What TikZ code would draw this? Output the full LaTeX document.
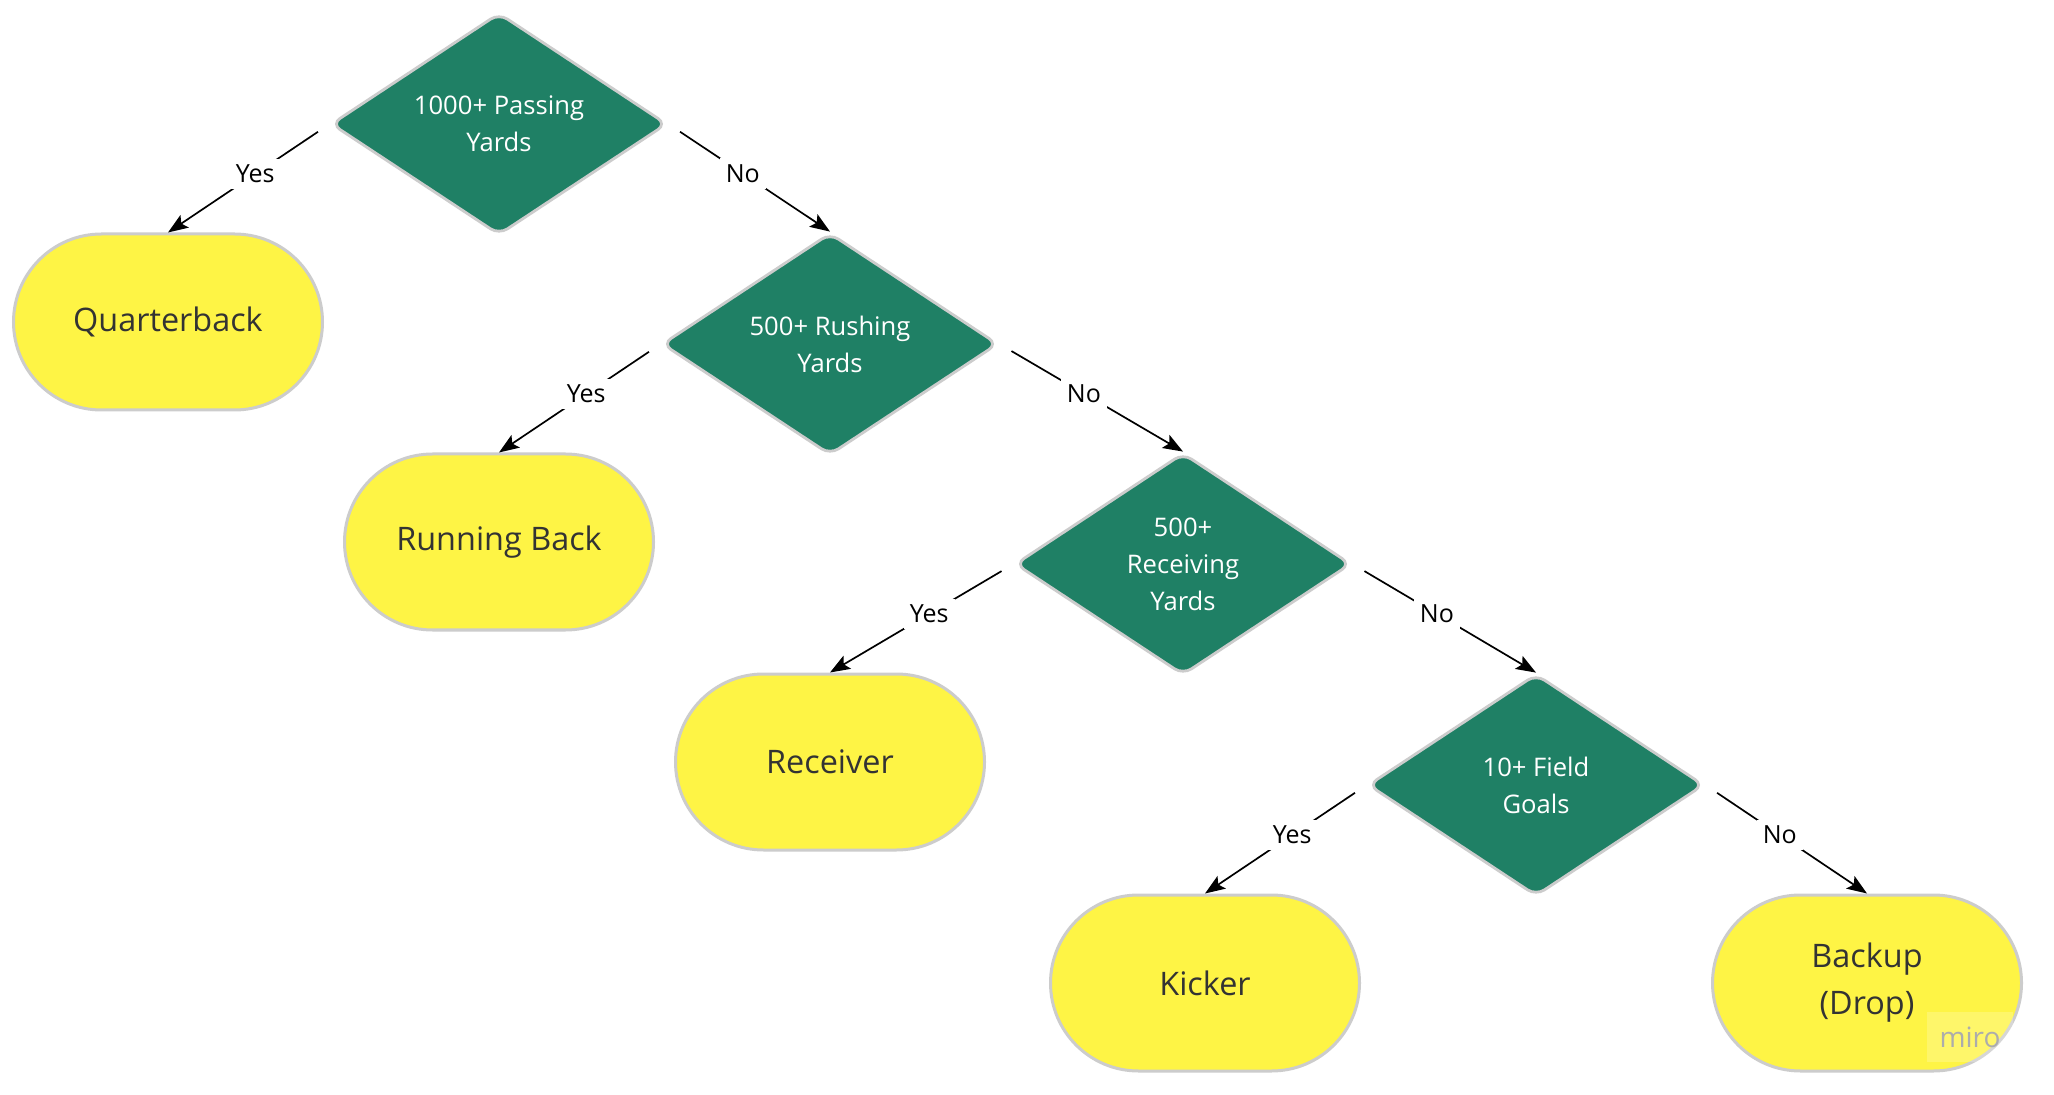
\documentclass[tikz,border=0pt]{standalone}
\usepackage{fontspec}
\setmainfont{Open Sans}
\usetikzlibrary{shapes.geometric, arrows.meta, positioning}
\definecolor{decisiongreen}{HTML}{1F8065}
\definecolor{stickyyellow}{HTML}{FEF445}
\definecolor{outlinegray}{HTML}{CCCCCC}

\begin{document}
\begin{tikzpicture}[
    x=0.5pt, y=-0.5pt, on grid,
    decision/.style={diamond, draw=outlinegray, line width=1.4pt, fill=decisiongreen, text=white, aspect=1.52, minimum width=168pt, minimum height=111pt, inner sep=0pt, rounded corners=5pt, align=center, font=\fontsize{12.8pt}{18.5pt}\selectfont},
    role/.style={rectangle, draw=outlinegray, line width=1.5pt, fill=stickyyellow, text=black!80, minimum width=154.5pt, minimum height=88pt, rounded corners=44pt, align=center, font=\fontsize{16.2pt}{23.5pt}\selectfont},
    arrow/.style={-{Stealth[length=10pt, width=7.5pt, inset=2pt]}, line width=0.85pt, shorten <=7pt},
    answer/.style={fill=white, inner sep=3pt, font=\fontsize{12.5pt}{15pt}\selectfont, pos=0.46}
]
    \fill[white] (0,0) rectangle (2054,1095);
    \useasboundingbox (0,0) rectangle (2054,1095);

    \node[decision] (passing) at (499,124) {1000+ Passing\\Yards};
    \node[decision, below right=110pt and 165.5pt of passing] (rushing) {500+ Rushing\\Yards};
    \node[decision, below right=110pt and 176.5pt of rushing] (receiving) {500+\\Receiving\\Yards};
    \node[decision, below right=110.5pt and 176.5pt of receiving] (kicking) {10+ Field\\Goals};

    \node[role, below left=99pt and 165.5pt of passing] (qb) {Quarterback};
    \node[role, below left=99pt and 165.5pt of rushing] (rb) {Running Back};
    \node[role, below left=99pt and 176.5pt of receiving] (wr) {Receiver};
    \node[role, below left=99pt and 165.5pt of kicking] (kicker) {Kicker};
    \node[role, below right=99pt and 165.5pt of kicking] (backup) {Backup\\(Drop)};

    \draw[arrow] (passing.west) -- node[answer] {Yes} (qb.north);
    \draw[arrow] (passing.east) -- node[answer] {No} (rushing.north);
    \draw[arrow] (rushing.west) -- node[answer] {Yes} (rb.north);
    \draw[arrow] (rushing.east) -- node[answer] {No} (receiving.north);
    \draw[arrow] (receiving.west) -- node[answer] {Yes} (wr.north);
    \draw[arrow] (receiving.east) -- node[answer] {No} (kicking.north);
    \draw[arrow] (kicking.west) -- node[answer] {Yes} (kicker.north);
    \draw[arrow] (kicking.east) -- node[answer] {No} (backup.north);

    \node[fill=white, fill opacity=0.2, text opacity=1, text=gray!65, minimum width=43pt, minimum height=25pt, font=\fontsize{14pt}{16pt}\selectfont] (watermark) at (1970,1037) {miro};
\end{tikzpicture}
\end{document}
